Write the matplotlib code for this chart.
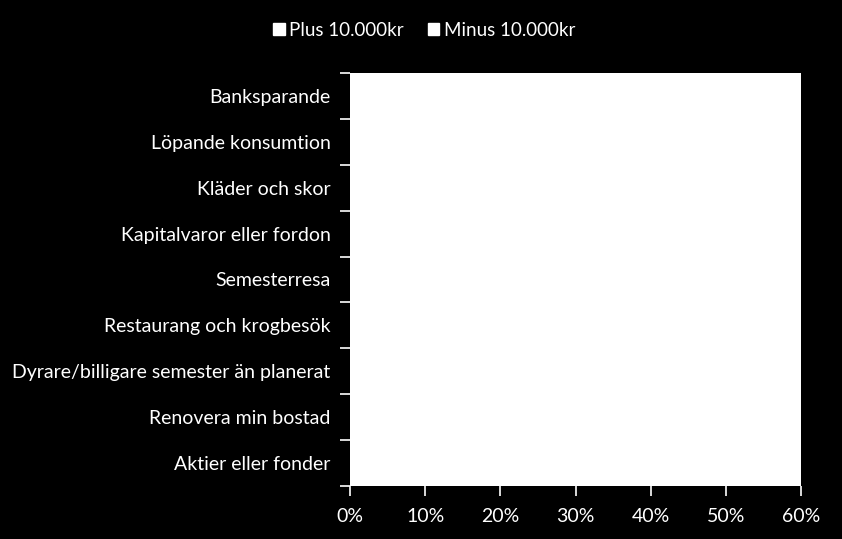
import numpy as np
import matplotlib.pyplot as plt
from matplotlib.ticker import FixedLocator, PercentFormatter

# kategorier uppifrån och ned
kategorier = ["Banksparande", "Löpande konsumtion", "Kläder och skor",
              "Kapitalvaror eller fordon", "Semesterresa", "Restaurang och krogbesök",
              "Dyrare/billigare semester än planerat", "Renovera min bostad",
              "Aktier eller fonder"]
# staplarna är vita mot vit bakgrund i förlagan, värdena går inte att läsa av
plus_10000 = [0.0] * len(kategorier)
minus_10000 = [0.0] * len(kategorier)
xticks = [0, 10, 20, 30, 40, 50, 60]

plt.rcParams['font.family'] = ['Lato', 'DejaVu Sans']

fig = plt.figure(figsize=(8.42, 5.39), dpi=100, facecolor="black")
ax = fig.add_axes([0.4157, 0.0983, 0.5356, 0.7663])
ax.set_facecolor("white")

n = len(kategorier)
y = np.arange(n)[::-1]
h = 0.35
ax.barh(y + h / 2, plus_10000, height=h, color="white", label="Plus 10.000kr")
ax.barh(y - h / 2, minus_10000, height=h, color="white", label="Minus 10.000kr")

ax.set_xlim(0, 60)
ax.set_ylim(-0.5, n - 0.5)
ax.set_xticks(xticks)
ax.xaxis.set_major_formatter(PercentFormatter(decimals=0))
ax.set_yticks(y)
ax.set_yticklabels(kategorier)
ax.yaxis.set_minor_locator(FixedLocator(np.arange(n + 1) - 0.5))
ax.tick_params(axis="y", which="major", length=0, pad=14, colors="white", labelsize=14)
ax.tick_params(axis="y", which="minor", length=7, width=1.2, color="white")
ax.tick_params(axis="x", length=7, width=1.2, colors="white", labelsize=14, pad=9)
for s in ax.spines.values():
    s.set_visible(False)

leg = ax.legend(loc="center", bbox_to_anchor=(0.165, 1.104), ncol=2, frameon=False,
                fontsize=13.5, handlelength=0.6, handleheight=0.6, handletextpad=0.25,
                columnspacing=1.3, labelcolor="white")
for p in leg.legend_handles:
    p.set_edgecolor("white")

fig.savefig("out.png", dpi=100, facecolor="black")
